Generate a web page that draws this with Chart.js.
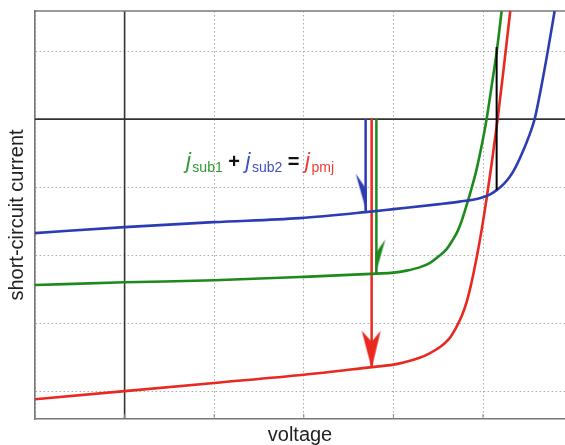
<!DOCTYPE html>
<html lang="en">
<head>
  <meta charset="UTF-8" />
  <title>Short-circuit current vs voltage</title>
  <script src="https://cdn.jsdelivr.net/npm/chart.js"></script>
  <style>
    html, body { margin: 0; padding: 0; background: #fff; overflow: hidden; }
    #wrap { width: 565px; height: 445px; }
    canvas { display: block; }
  </style>
</head>
<body>
  <div id="wrap"><canvas id="ivChart" width="565" height="445"></canvas></div>

  <script>
// grid positions and visible window (arbitrary units)
const xTicks = [-1, 0, 1, 2, 3, 4];
const yTicks = [-4, -3, -2, -1, 0, 1];
const xRange = [-1, 4.915];   // plot is cut off at the right edge
const yRange = [-4.41, 1.59];

// j-V curves of the two sub cells and the combined (pmj) cell
const sub2X = [-1, 0, 0.993, 1.953, 2.69, 3.002, 3.516, 3.739, 3.962, 4.074, 4.152, 4.23, 4.297, 4.364, 4.442, 4.509, 4.576, 4.643, 4.721, 4.799];
const sub2Y = [-1.676, -1.588, -1.515, -1.456, -1.368, -1.324, -1.25, -1.213, -1.162, -1.11, -1.044, -0.956, -0.853, -0.706, -0.485, -0.265, 0, 0.426, 0.985, 1.588];

const sub1X = [-1, 0, 1, 2, 2.81, 3.002, 3.147, 3.292, 3.404, 3.516, 3.594, 3.661, 3.717, 3.761, 3.817, 3.873, 3.929, 3.984, 4.04, 4.096, 4.152, 4.208];
const sub1Y = [-2.44, -2.4, -2.37, -2.32, -2.272, -2.258, -2.228, -2.18, -2.118, -2.007, -1.912, -1.779, -1.647, -1.5, -1.265, -1.015, -0.735, -0.397, 0, 0.485, 0.985, 1.588];

const pmjX = [-1, 0, 1, 2, 2.757, 3.002, 3.114, 3.292, 3.404, 3.516, 3.616, 3.694, 3.761, 3.817, 3.862, 3.906, 3.951, 3.996, 4.04, 4.096, 4.163, 4.23, 4.305];
const pmjY = [-4.12, -4.0, -3.88, -3.76, -3.647, -3.61, -3.58, -3.51, -3.445, -3.355, -3.24, -3.08, -2.9, -2.69, -2.46, -2.19, -1.88, -1.54, -1.17, -0.66, 0, 0.74, 1.6];

// black construction line between the curves
const tieX = [4.152, 4.152];
const tieY = [-1.044, 1.06];

// arrows: sub2, pmj, sub1 (from zero down to the curve)
const arrowX = [2.69, 2.757, 2.81];
const arrowEnd = [-1.36, -3.64, -2.268];

// equation label
const eqAnchor = { x: 0.685, y: -0.72 };
const eqText = ['j', 'sub1', ' + ', 'j', 'sub2', ' = ', 'j', 'pmj'];
const eqKind = ['j', 's', 'o', 'j', 's', 'o', 'j', 's'];

const BLUE = '#2c3cb2';
const GREEN = '#1d8a1d';
const RED = '#e8291f';
const eqColor = ['#2f9a2f', '#2f9a2f', '#111', '#3f4fc0', '#3f4fc0', '#111', '#ef3a32', '#ef3a32'];

const pts = (xs, ys) => xs.map((x, i) => ({ x: x, y: ys[i] }));

// arrow heads as small canvases, tip in the centre
function headImg(color, poly) {
  const c = document.createElement('canvas');
  c.width = 30; c.height = 84;
  const g = c.getContext('2d');
  g.fillStyle = color;
  g.beginPath();
  poly.forEach(function (p, i) {
    if (i === 0) g.moveTo(15 + p[0], 42 + p[1]);
    else g.lineTo(15 + p[0], 42 + p[1]);
  });
  g.closePath();
  g.fill();
  return c;
}
const blueHead = headImg(BLUE, [[1, 1], [-10, -38], [1, -22]]);
const redHead = headImg(RED, [[0, 2], [-10, -36], [0, -25], [9, -36]]);
const greenHead = headImg(GREEN, [[-1, 1], [9, -34], [-1, -20]]);

function arrow(i, color, head) {
  return {
    data: [{ x: arrowX[i], y: 0 }, { x: arrowX[i], y: arrowEnd[i] }],
    borderColor: color,
    borderWidth: 2.5,
    pointRadius: [0, 5],
    pointStyle: head,
    pointBackgroundColor: color,
    pointBorderWidth: 0
  };
}

function curve(xs, ys, color) {
  return {
    data: pts(xs, ys),
    borderColor: color,
    borderWidth: 2.6,
    pointRadius: 0,
    cubicInterpolationMode: 'monotone'
  };
}

// solid zero lines, top frame line and small inner ticks
const frame = {
  id: 'frame',
  beforeDatasetsDraw(chart) {
    const { ctx, chartArea: a, scales: { x, y } } = chart;
    ctx.save();
    ctx.lineWidth = 1.6;
    ctx.strokeStyle = '#333';
    const px = x.getPixelForValue(0), py = y.getPixelForValue(0);
    ctx.beginPath();
    ctx.moveTo(px, a.top); ctx.lineTo(px, a.bottom);
    ctx.moveTo(a.left, py); ctx.lineTo(a.right, py);
    ctx.stroke();
    ctx.strokeStyle = '#777';
    ctx.beginPath();
    ctx.moveTo(a.left, a.top); ctx.lineTo(a.right, a.top);
    ctx.stroke();
    ctx.lineWidth = 1;
    ctx.strokeStyle = '#888';
    ctx.beginPath();
    xTicks.forEach(v => {
      const tx = x.getPixelForValue(v);
      ctx.moveTo(tx, a.bottom); ctx.lineTo(tx, a.bottom - 5);
    });
    ctx.stroke();
    ctx.restore();
  },
  afterDatasetsDraw(chart) {
    const { ctx, scales: { x, y } } = chart;
    let cx = x.getPixelForValue(eqAnchor.x);
    const cy = y.getPixelForValue(eqAnchor.y);
    ctx.save();
    ctx.textBaseline = 'alphabetic';
    eqText.forEach((t, i) => {
      const k = eqKind[i];
      if (k === 'j') ctx.font = 'italic 22px "Liberation Sans", Arial, sans-serif';
      else if (k === 's') ctx.font = '14px "Liberation Sans", Arial, sans-serif';
      else ctx.font = 'bold 20px "Liberation Sans", Arial, sans-serif';
      ctx.fillStyle = eqColor[i];
      ctx.fillText(t, cx, cy + (k === 's' ? 4 : 0));
      cx += ctx.measureText(t).width + (k === 'j' ? 1.5 : 0);
    });
    ctx.restore();
  }
};

Chart.defaults.font.family = '"Liberation Sans", Arial, sans-serif';

const ctx = document.getElementById('ivChart').getContext('2d');
new Chart(ctx, {
  type: 'line',
  data: {
    datasets: [
      { data: pts(tieX, tieY), borderColor: '#000', borderWidth: 2, pointRadius: 0 },
      curve(sub2X, sub2Y, BLUE),
      curve(sub1X, sub1Y, GREEN),
      curve(pmjX, pmjY, RED),
      arrow(0, BLUE, blueHead),
      arrow(2, GREEN, greenHead),
      arrow(1, RED, redHead)
    ]
  },
  options: {
    responsive: false,
    animation: false,
    events: [],
    // no extra room for the arrow heads: plot runs right to the edge
    layout: { autoPadding: false, padding: { left: 0, top: 11, right: 0, bottom: 0 } },
    plugins: { legend: { display: false }, tooltip: { enabled: false } },
    scales: {
      x: {
        type: 'linear',
        min: xRange[0],
        max: xRange[1],
        afterBuildTicks: s => { s.ticks = xTicks.map(v => ({ value: v })); },
        afterFit: s => { s.height = 26; },
        ticks: { display: false },
        grid: { color: '#aaa', lineWidth: 1, drawTicks: false },
        border: { display: true, color: '#777', width: 1.6, dash: [1.5, 2.5] },
        title: {
          display: true,
          text: 'voltage',
          color: '#222',
          font: { size: 20 },
          padding: { top: 0, bottom: -2 }
        }
      },
      y: {
        type: 'linear',
        min: yRange[0],
        max: yRange[1],
        afterBuildTicks: s => { s.ticks = yTicks.map(v => ({ value: v })); },
        afterFit: s => { s.width = 35; },
        ticks: { display: false },
        grid: { color: '#aaa', lineWidth: 1, drawTicks: false },
        border: { display: true, color: '#777', width: 1.6, dash: [1.5, 2.5] },
        title: {
          display: true,
          text: 'short-circuit current',
          color: '#222',
          font: { size: 20 },
          padding: { top: 5, bottom: 0 }
        }
      }
    }
  },
  plugins: [frame]
});
  </script>
</body>
</html>
